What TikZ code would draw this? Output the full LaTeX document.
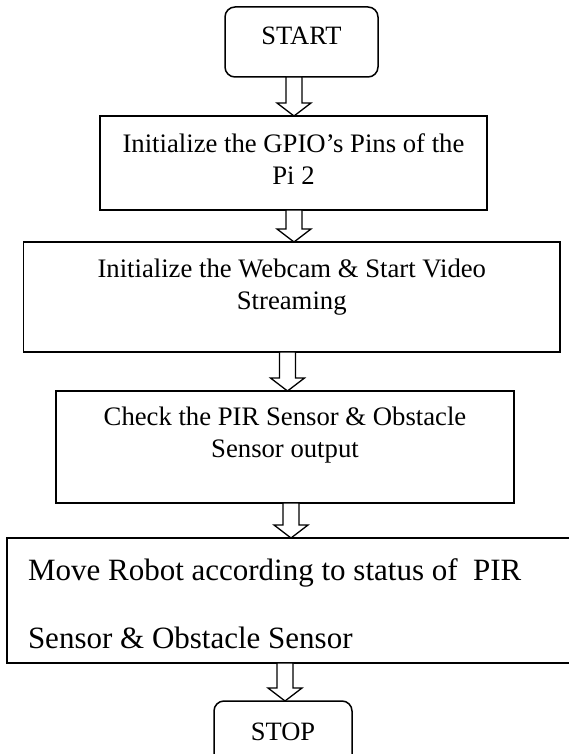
\documentclass[tikz,border=0pt]{standalone}
\usepackage{fontspec}
\setmainfont{Liberation Serif}
\usetikzlibrary{calc}
\tikzset{
  every node/.style={inner sep=0pt, outer sep=0pt},
  term/.style={draw, line width=1.5pt, rounded corners=10pt, anchor=north west,
    font=\fontsize{26.5}{32}\selectfont},
  procbox/.style={draw, line width=1.5pt, anchor=north west, align=flush center,
    font=\fontsize{26.7}{32}\selectfont},
  bigbox/.style={draw, line width=1.5pt, anchor=north west, align=flush left,
    inner xsep=21pt, font=\fontsize{31}{68}\selectfont},
  blockarr/.style={draw, fill=white, line width=1.3pt, line join=miter},
}
% #1 from node, #2 to node, #3 centre x (px)
\newcommand\blockarrow[3]{%
  \draw[blockarr] let \p1=(#1.south), \p2=(#2.north) in
    ({#3pt-8pt},\y1) -- ({#3pt-8pt},{\y2+13pt}) -- ({#3pt-17pt},{\y2+13pt})
    -- ({#3pt},\y2) -- ({#3pt+17pt},{\y2+13pt}) -- ({#3pt+8pt},{\y2+13pt})
    -- ({#3pt+8pt},\y1) -- cycle;}
\begin{document}
\begin{tikzpicture}[x=1pt,y=-1pt]
\useasboundingbox (0,0) rectangle (568,754);
\node[term, minimum width=153pt, text height=38pt, text depth=32pt] (start) at (225,7) {START};
\node[procbox, text width=387pt, text height=37pt, text depth=57pt] (b1) at (100,116)
  {Initialize the GPIO’s Pins of the\\Pi 2};
\node[procbox, text width=536.5pt, text height=35pt, text depth=75pt] (b2) at (23.5,242)
  {Initialize the Webcam \& Start Video\\Streaming};
\node[procbox, text width=458pt, text height=34pt, text depth=78pt] (b3) at (56,391)
  {Check the PIR Sensor \& Obstacle\\Sensor output};
\node[bigbox, text width=538pt, text height=42pt, text depth=83pt] (b4) at (7,538)
  {Move Robot according to status of \ PIR\\Sensor \& Obstacle Sensor};
\node[term, minimum width=138pt, text height=39pt, text depth=31pt] (stop) at (214,701) {STOP};
\blockarrow{start}{b1}{294}
\blockarrow{b1}{b2}{294}
\blockarrow{b2}{b3}{287.5}
\blockarrow{b3}{b4}{291}
\blockarrow{b4}{stop}{285}
\end{tikzpicture}
\end{document}
